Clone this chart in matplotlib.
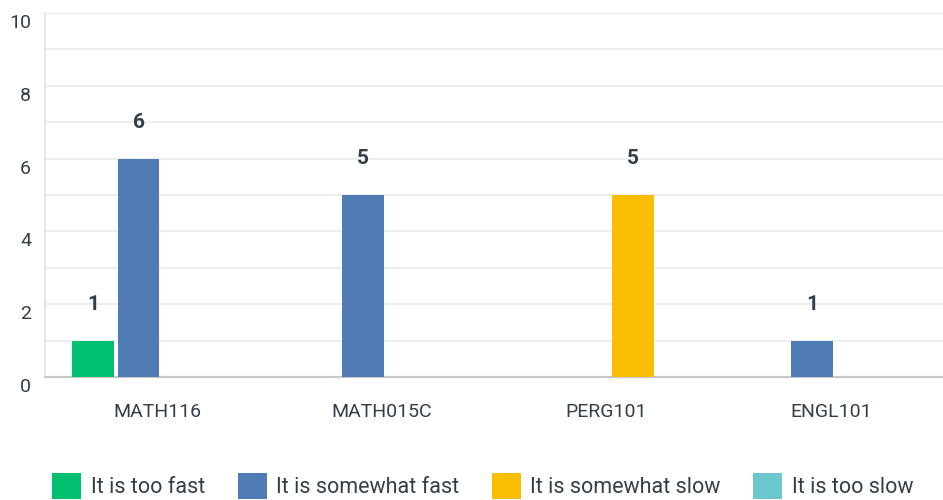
import matplotlib
matplotlib.use("Agg")
import matplotlib.pyplot as plt
import numpy as np
from matplotlib.patches import Patch
from matplotlib.transforms import ScaledTranslation

# Data
courses = ['MATH116', 'MATH015C', 'PERG101', 'ENGL101']
series_names = ['It is too fast', 'It is somewhat fast', 'It is somewhat slow', 'It is too slow']
too_fast = [1, 0, 0, 0]
somewhat_fast = [6, 5, 0, 1]
somewhat_slow = [0, 0, 5, 0]
too_slow = [0, 0, 0, 0]
colors = ['#00bf6f', '#507cb6', '#f9be00', '#6bc8cd']

plt.rcParams['font.family'] = ['Roboto', 'DejaVu Sans']
text_color = '#333e48'

fig = plt.figure(figsize=(9.43, 5.0), dpi=100)
ax = fig.add_axes([45 / 943, 1 - 377 / 500, 1 - 45 / 943, (377 - 13) / 500])

x = np.arange(len(courses))
step = 0.203
width = 0.187
shift = 0.018  # bars sit a bit right of the category label
all_series = [too_fast, somewhat_fast, somewhat_slow, too_slow]

for i, (vals, color) in enumerate(zip(all_series, colors)):
    pos = x + (i - 1.5) * step + shift
    ax.bar(pos, vals, width=width, color=color, zorder=3)
    for xp, v in zip(pos, vals):
        if v > 0:
            ax.annotate(str(v), xy=(xp, v), xytext=(0, 26), textcoords='offset points',
                        ha='center', va='center', fontsize=15, fontweight='bold',
                        color=text_color)

ax.set_xlim(-0.5, len(courses) - 0.5)
ax.set_ylim(0, 10)

# Grid
ax.set_yticks([0, 2, 4, 6, 8, 10])
ax.set_yticks([1, 3, 5, 7, 9], minor=True)
ax.grid(axis='y', which='both', color='#ebebeb', linewidth=1.2, zorder=0)
ax.set_xticks(x)
ax.set_xticklabels(courses)
ax.tick_params(axis='both', which='both', length=0)
ax.tick_params(axis='y', labelsize=14, labelcolor=text_color, pad=10)
ax.tick_params(axis='x', labelsize=14, labelcolor=text_color, pad=19)

# y labels sit slightly below their gridlines
for lab in ax.get_yticklabels():
    lab.set_transform(lab.get_transform() + ScaledTranslation(0, -8 / 100, fig.dpi_scale_trans))

for side in ['top', 'right']:
    ax.spines[side].set_visible(False)
ax.spines['left'].set_color('#e4e4e4')
ax.spines['left'].set_linewidth(1.2)
ax.spines['bottom'].set_color('#c8c8c8')
ax.spines['bottom'].set_linewidth(1.6)

# Legend at the bottom
handles = [Patch(facecolor=c, edgecolor='none') for c in colors]
fig.legend(handles, series_names, loc='center', bbox_to_anchor=(0.512, 0.028), ncol=4,
           frameon=False, fontsize=15.5, handlelength=1.35, handleheight=1.5,
           handletextpad=0.45, columnspacing=1.5, labelcolor=text_color)

plt.savefig('out.png', dpi=100)
plt.close(fig)
